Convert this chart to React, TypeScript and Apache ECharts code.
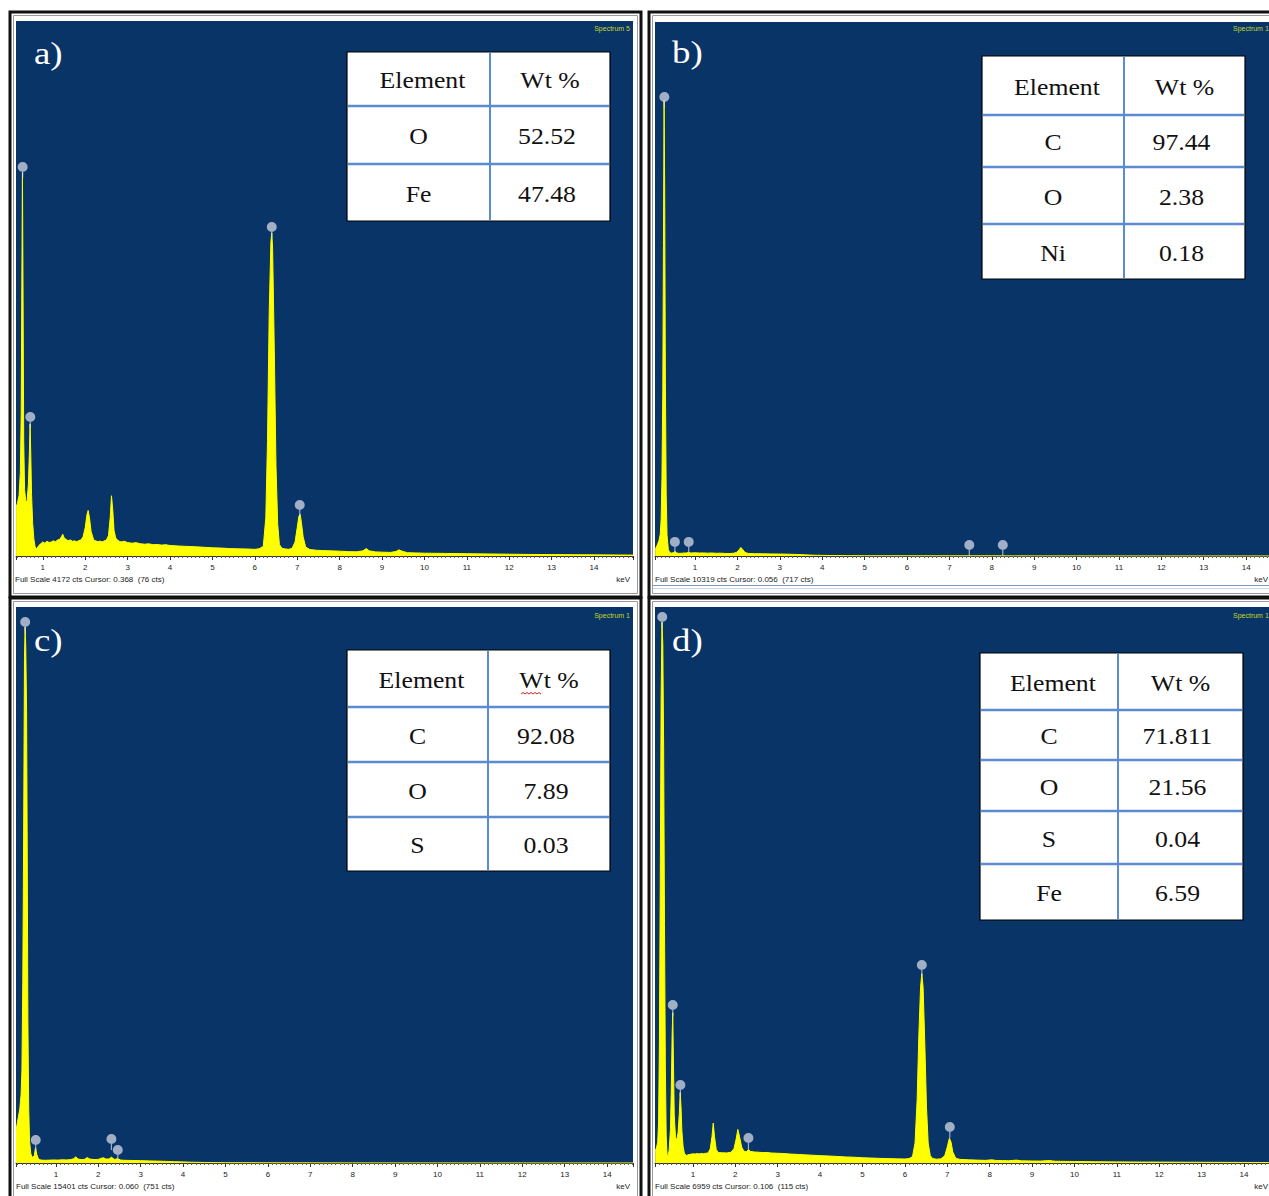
import React, { useEffect, useRef } from 'react';
import * as echarts from 'echarts';

type Pt = [number, number];

// EDS spectra: [energy keV, counts]
const spectrumA: Pt[] = [
  [0.37, 380], [0.40, 410], [0.44, 470], [0.47, 650], [0.49, 1100], [0.505, 2100], [0.52, 2990], [0.535, 2000],
  [0.55, 900], [0.57, 520], [0.60, 420], [0.63, 430], [0.66, 560], [0.685, 820], [0.70, 1030], [0.715, 820],
  [0.735, 480], [0.76, 260], [0.79, 130], [0.82, 70], [0.86, 55], [0.90, 80], [0.95, 95], [1.00, 110],
  [1.05, 100], [1.10, 115], [1.15, 105], [1.20, 110], [1.25, 118], [1.30, 112], [1.35, 125], [1.40, 130],
  [1.44, 150], [1.47, 170], [1.50, 145], [1.55, 128], [1.60, 120], [1.65, 125], [1.70, 115], [1.75, 118],
  [1.80, 112], [1.85, 120], [1.90, 125], [1.95, 150], [2.00, 220], [2.04, 320], [2.07, 355], [2.10, 300],
  [2.14, 190], [2.20, 125], [2.25, 118], [2.30, 112], [2.35, 116], [2.40, 110], [2.45, 118], [2.50, 125],
  [2.55, 160], [2.59, 300], [2.62, 470], [2.65, 360], [2.68, 200], [2.72, 140], [2.78, 118], [2.85, 110],
  [2.92, 115], [3.00, 105], [3.10, 100], [3.20, 104], [3.30, 96], [3.40, 92], [3.50, 95], [3.60, 88],
  [3.70, 90], [3.80, 85], [3.90, 88], [4.00, 82], [4.20, 78], [4.40, 75], [4.60, 72], [4.80, 68],
  [5.00, 64], [5.20, 62], [5.40, 58], [5.60, 56], [5.80, 55], [6.00, 52], [6.10, 56], [6.20, 75],
  [6.26, 300], [6.30, 900], [6.34, 1900], [6.38, 2450], [6.40, 2520], [6.42, 2400], [6.46, 1600], [6.50, 700],
  [6.54, 250], [6.58, 90], [6.64, 60], [6.72, 55], [6.80, 52], [6.88, 60], [6.95, 110], [7.00, 220],
  [7.04, 310], [7.07, 325], [7.10, 260], [7.14, 150], [7.20, 70], [7.30, 50], [7.45, 45], [7.60, 42],
  [7.80, 40], [8.00, 38], [8.20, 34], [8.40, 33], [8.55, 40], [8.63, 58], [8.70, 40], [8.85, 32],
  [9.00, 30], [9.20, 28], [9.33, 35], [9.40, 48], [9.47, 38], [9.60, 26], [9.80, 24], [10.00, 22],
  [10.50, 20], [11.00, 18], [11.50, 16], [12.00, 14], [12.50, 12], [13.00, 11], [13.50, 10], [14.00, 9],
  [14.50, 8], [14.92, 7],
];

const spectrumB: Pt[] = [
  [0.06, 120], [0.09, 180], [0.12, 230], [0.15, 300], [0.18, 420], [0.20, 700], [0.22, 1500], [0.24, 3200],
  [0.255, 6000], [0.27, 8800], [0.285, 7000], [0.30, 3500], [0.32, 1200], [0.34, 400], [0.37, 130], [0.40, 70],
  [0.45, 55], [0.50, 70], [0.53, 85], [0.57, 60], [0.62, 50], [0.70, 55], [0.80, 60], [0.85, 70],
  [0.90, 58], [1.00, 62], [1.10, 58], [1.20, 60], [1.30, 55], [1.40, 58], [1.50, 52], [1.60, 55],
  [1.70, 50], [1.80, 48], [1.90, 52], [1.98, 70], [2.04, 120], [2.08, 165], [2.12, 130], [2.18, 70],
  [2.25, 50], [2.40, 45], [2.60, 42], [2.80, 40], [3.00, 38], [3.20, 35], [3.40, 30], [3.60, 22],
  [3.80, 15], [4.00, 12], [4.30, 9], [4.60, 7], [5.00, 5], [6.00, 4], [7.00, 3], [8.00, 3],
  [9.00, 2], [10.00, 2], [12.00, 1], [14.61, 1],
];

const spectrumC: Pt[] = [
  [0.06, 900], [0.09, 1100], [0.12, 1300], [0.15, 1500], [0.18, 1900], [0.20, 2600], [0.22, 5000], [0.24, 9000],
  [0.26, 14000], [0.275, 14850], [0.29, 14300], [0.31, 12500], [0.325, 8500], [0.34, 4000], [0.36, 1500], [0.38, 600],
  [0.41, 250], [0.45, 150], [0.49, 200], [0.52, 420], [0.55, 240], [0.59, 110], [0.65, 80], [0.75, 75],
  [0.85, 80], [0.95, 85], [1.05, 80], [1.15, 90], [1.25, 85], [1.35, 95], [1.42, 120], [1.47, 170],
  [1.52, 110], [1.60, 95], [1.67, 100], [1.74, 150], [1.80, 110], [1.90, 95], [2.00, 100], [2.07, 130],
  [2.12, 145], [2.18, 110], [2.25, 110], [2.31, 160], [2.38, 100], [2.46, 120], [2.52, 85], [2.60, 75],
  [2.80, 70], [3.00, 65], [3.20, 58], [3.40, 52], [3.60, 45], [3.80, 38], [4.00, 30], [4.20, 22],
  [4.50, 15], [5.00, 8], [6.00, 5], [8.00, 3], [10.00, 2], [14.61, 1],
];

const spectrumD: Pt[] = [
  [0.11, 150], [0.14, 190], [0.17, 260], [0.19, 500], [0.21, 1500], [0.23, 3500], [0.25, 5800], [0.27, 6770],
  [0.29, 6500], [0.31, 5200], [0.33, 3000], [0.35, 1200], [0.37, 350], [0.39, 110], [0.41, 80], [0.44, 160],
  [0.47, 420], [0.49, 900], [0.51, 1600], [0.525, 1880], [0.54, 1300], [0.56, 600], [0.59, 320], [0.62, 290],
  [0.65, 380], [0.68, 620], [0.70, 880], [0.72, 700], [0.74, 400], [0.77, 200], [0.80, 120], [0.85, 95],
  [0.90, 105], [0.95, 110], [1.00, 115], [1.05, 112], [1.10, 118], [1.15, 114], [1.20, 120], [1.25, 116],
  [1.30, 122], [1.36, 125], [1.41, 180], [1.45, 330], [1.48, 500], [1.51, 330], [1.55, 170], [1.60, 130],
  [1.70, 128], [1.80, 126], [1.90, 135], [1.97, 180], [2.02, 300], [2.06, 420], [2.10, 330], [2.15, 200],
  [2.20, 150], [2.26, 140], [2.31, 170], [2.36, 145], [2.45, 138], [2.55, 135], [2.65, 130], [2.75, 132],
  [2.85, 125], [3.00, 122], [3.15, 118], [3.30, 112], [3.45, 108], [3.60, 104], [3.80, 98], [4.00, 92],
  [4.20, 88], [4.40, 82], [4.60, 76], [4.80, 72], [5.00, 66], [5.20, 62], [5.40, 58], [5.60, 55],
  [5.80, 52], [6.00, 50], [6.10, 55], [6.18, 80], [6.24, 250], [6.29, 800], [6.33, 1600], [6.37, 2200],
  [6.40, 2370], [6.43, 2200], [6.47, 1500], [6.51, 700], [6.55, 250], [6.60, 90], [6.66, 55], [6.75, 48],
  [6.85, 52], [6.94, 90], [7.00, 200], [7.05, 310], [7.09, 260], [7.13, 140], [7.20, 60], [7.30, 45],
  [7.50, 40], [7.70, 36], [7.90, 33], [8.05, 40], [8.15, 32], [8.30, 30], [8.45, 28], [8.63, 36],
  [8.75, 27], [9.00, 25], [9.20, 24], [9.40, 30], [9.55, 22], [9.80, 20], [10.00, 19], [10.50, 16],
  [11.00, 14], [11.50, 12], [12.00, 11], [12.50, 10], [13.00, 9], [13.50, 8], [14.00, 7], [14.66, 6],
];

// Peak identification markers: [energy keV, counts at marker tip]
const peaksA: Pt[] = [[0.525, 2948], [0.705, 998], [6.40, 2480], [7.06, 312]];
const peaksB: Pt[] = [[0.277, 8657], [0.525, 60], [0.851, 60], [7.47, 0], [8.26, 0]];
const peaksC: Pt[] = [[0.277, 14681], [0.525, 332], [2.31, 360], [2.46, 55]];
const peaksD: Pt[] = [[0.277, 6696], [0.525, 1840], [0.705, 839], [2.31, 175], [6.40, 2340], [7.06, 313]];

// Composition tables
const elementsA = ['O', 'Fe'];
const wtA = ['52.52', '47.48'];
const elementsB = ['C', 'O', 'Ni'];
const wtB = ['97.44', '2.38', '0.18'];
const elementsC = ['C', 'O', 'S'];
const wtC = ['92.08', '7.89', '0.03'];
const elementsD = ['C', 'O', 'S', 'Fe'];
const wtD = ['71.811', '21.56', '0.04', '6.59'];

const fullScaleCts = [4172, 10319, 15401, 6959];
const cursorKeV = ['0.368', '0.056', '0.060', '0.106'];
const cursorCts = [76, 717, 751, 115];
const spectrumNames = ['Spectrum 5', 'Spectrum 1', 'Spectrum 1', 'Spectrum 1'];
const panelTags = ['a)', 'b)', 'c)', 'd)'];
const keVTicks = [1, 2, 3, 4, 5, 6, 7, 8, 9, 10, 11, 12, 13, 14];
const keVRange: Pt[] = [[0.368, 14.92], [0.056, 14.61], [0.060, 14.61], [0.106, 14.66]];

const spectra = [spectrumA, spectrumB, spectrumC, spectrumD];
const peaks = [peaksA, peaksB, peaksC, peaksD];
const tables = [
  [elementsA, wtA],
  [elementsB, wtB],
  [elementsC, wtC],
  [elementsD, wtD],
];

// Page layout of the four panels (pixels)
const layout = [
  { frame: [10, 12, 631, 585], grid: [16, 21, 617, 535], tag: [34, 53], name: [630, 28, 'right'], table: { x: 347, w: 263, col: 490, rows: [52, 106, 164, 221] }, foot: [15, 579], unit: [630, 579] },
  { frame: [649, 12, 640, 585], grid: [655, 22, 617, 534], tag: [672, 52], name: [1233, 28, 'left'], table: { x: 982, w: 263, col: 1124, rows: [56, 115, 167, 224, 279] }, foot: [655, 579], unit: [1268, 579] },
  { frame: [10, 598, 631, 620], grid: [16, 607, 617, 556], tag: [34, 640], name: [630, 615, 'right'], table: { x: 347, w: 263, col: 488, rows: [650, 707, 762, 817, 871] }, foot: [16, 1186], unit: [630, 1186] },
  { frame: [649, 598, 640, 620], grid: [655, 607, 617, 556], tag: [672, 640], name: [1233, 615, 'left'], table: { x: 980, w: 263, col: 1118, rows: [653, 710, 760, 811, 864, 920] }, foot: [655, 1186], unit: [1268, 1186] },
];

const NAVY = '#083467';
const YELLOW = '#ffff00';
const TABLE_BLUE = '#5b8bd2';
const SERIF = '"Liberation Serif", "Times New Roman", serif';
const NARROW = '"Liberation Sans Narrow", "Liberation Sans", Arial, sans-serif';
const PIN = 'path://M0,5A5,5 0 1,1 10,5A5,5 0 1,1 0,5Z M4.4,9.6L5.6,9.6L5.6,16L4.4,16Z';

function txt(x: number, y: number, text: string, opts: any = {}) {
  const { size = 23, family = SERIF, color = '#111', align = 'center', scaleX = 1.12, z = 100 } = opts;
  return {
    type: 'text',
    x,
    y,
    z,
    scaleX,
    silent: true,
    style: {
      text,
      x: 0,
      y: 0,
      fill: color,
      fontSize: size,
      fontFamily: family,
      align,
      verticalAlign: 'middle',
      textAlign: align,
      textVerticalAlign: 'middle',
    },
  };
}

function buildGraphics() {
  const els: any[] = [];
  layout.forEach((l, i) => {
    const [fx, fy, fw, fh] = l.frame;
    els.push({ type: 'rect', z: 100, silent: true, shape: { x: fx, y: fy, width: fw, height: fh }, style: { fill: 'none', stroke: '#111', lineWidth: 3 } });
    els.push({ type: 'rect', z: 100, silent: true, shape: { x: fx + 3.5, y: fy + 3.5, width: fw - 7, height: fh - 7 }, style: { fill: 'none', stroke: '#9a9a9a', lineWidth: 1 } });

    els.push(txt(l.tag[0], l.tag[1], panelTags[i], { size: 32, color: '#fff', align: 'left', scaleX: 1.15 }));
    els.push(txt(l.name[0] as number, l.name[1] as number, spectrumNames[i], { size: 7, family: NARROW, color: '#c4d62a', align: l.name[2], scaleX: 1 }));

    const footText = `Full Scale ${fullScaleCts[i]} cts Cursor: ${cursorKeV[i]}  (${cursorCts[i]} cts)`;
    els.push(txt(l.foot[0], l.foot[1], footText, { size: 8, family: NARROW, color: '#222', align: 'left', scaleX: 1 }));
    els.push(txt(l.unit[0], l.unit[1], 'keV', { size: 8, family: NARROW, color: '#222', align: 'right', scaleX: 1 }));

    const t = l.table;
    const top = t.rows[0];
    const bottom = t.rows[t.rows.length - 1];
    els.push({ type: 'rect', z: 100, silent: true, shape: { x: t.x, y: top, width: t.w, height: bottom - top }, style: { fill: '#fff', stroke: '#000', lineWidth: 1.2 } });
    els.push({ type: 'line', z: 101, silent: true, shape: { x1: t.col, y1: top + 1, x2: t.col, y2: bottom - 1 }, style: { stroke: TABLE_BLUE, lineWidth: 2 } });
    t.rows.slice(1, -1).forEach((ry) => {
      els.push({ type: 'line', z: 101, silent: true, shape: { x1: t.x + 1, y1: ry, x2: t.x + t.w - 1, y2: ry }, style: { stroke: TABLE_BLUE, lineWidth: 2.5 } });
    });
    const c1 = (t.x + t.col) / 2 + 4;
    const c2 = (t.col + t.x + t.w) / 2;
    const rowMid = (k: number) => (t.rows[k] + t.rows[k + 1]) / 2 + 1;
    els.push(txt(c1, rowMid(0), 'Element'));
    els.push(txt(c2, rowMid(0), 'Wt %'));
    const [els1, wts] = tables[i];
    els1.forEach((e, k) => {
      els.push(txt(c1 - 4, rowMid(k + 1), e));
      els.push(txt(c2 - 3, rowMid(k + 1), wts[k]));
    });
  });

  // spell-check squiggle under "Wt" in table c
  els.push({ type: 'polyline', z: 102, silent: true, shape: { points: [[521, 694], [523, 692.5], [525, 694], [527, 692.5], [529, 694], [531, 692.5], [533, 694], [535, 692.5], [537, 694], [539, 692.5], [541, 694]] }, style: { stroke: '#d42020', lineWidth: 1, fill: 'none' } });

  // status-bar rule under the footer of panel b
  els.push({ type: 'line', z: 100, silent: true, shape: { x1: 653, y1: 585.5, x2: 1269, y2: 585.5 }, style: { stroke: '#7f97bd', lineWidth: 1 } });
  els.push({ type: 'line', z: 100, silent: true, shape: { x1: 653, y1: 588.5, x2: 1269, y2: 588.5 }, style: { stroke: '#c9d4e6', lineWidth: 1 } });
  return els;
}

export default function App() {
  const ref = useRef<HTMLDivElement>(null);

  useEffect(() => {
    if (!ref.current) return;
    const chart = echarts.init(ref.current, undefined, { renderer: 'svg' });

    const option: any = {
      animation: false,
      backgroundColor: '#ffffff',
      grid: layout.map((l) => ({
        left: l.grid[0],
        top: l.grid[1],
        width: l.grid[2],
        height: l.grid[3],
        show: true,
        backgroundColor: NAVY,
        borderWidth: 0,
        containLabel: false,
        outerBoundsMode: 'none',
      })),
      xAxis: layout.map((_, i) => ({
        gridIndex: i,
        type: 'value',
        min: keVRange[i][0],
        max: keVRange[i][1],
        minInterval: 1,
        maxInterval: 1,
        splitNumber: 14,
        axisLine: { show: true, onZero: false, lineStyle: { color: '#333', width: 1 } },
        axisTick: { show: true, inside: false, length: 4, lineStyle: { color: '#333', width: 1 } },
        minorTick: { show: true, splitNumber: 10, length: 2, lineStyle: { color: '#555', width: 1 } },
        splitLine: { show: false },
        minorSplitLine: { show: false },
        axisLabel: {
          show: true,
          fontSize: 8,
          color: '#222',
          margin: 7,
          fontFamily: NARROW,
          showMinLabel: false,
          showMaxLabel: false,
          formatter: (v: number) => {
            const r = Math.round(v);
            return Math.abs(v - r) < 1e-6 && keVTicks.includes(r) ? String(r) : '';
          },
        },
      })),
      yAxis: layout.map((_, i) => ({
        gridIndex: i,
        type: 'value',
        min: 0,
        max: fullScaleCts[i],
        show: false,
      })),
      series: [
        ...spectra.map((d, i) => ({
          type: 'line',
          xAxisIndex: i,
          yAxisIndex: i,
          data: d,
          showSymbol: false,
          symbol: 'none',
          silent: true,
          clip: true,
          z: 2,
          lineStyle: { color: YELLOW, width: 1 },
          areaStyle: { color: YELLOW, opacity: 1 },
        })),
        ...peaks.map((d, i) => ({
          type: 'scatter',
          xAxisIndex: i,
          yAxisIndex: i,
          data: d,
          symbol: PIN,
          symbolSize: [10, 16],
          symbolOffset: [0, '-50%'],
          silent: true,
          z: 3,
          itemStyle: { color: 'rgba(214,220,232,0.92)' },
        })),
      ],
      graphic: { elements: buildGraphics() },
    };

    chart.setOption(option);
    return () => chart.dispose();
  }, []);

  return (
    <div
      ref={ref}
      style={{ position: 'absolute', left: 0, top: 0, width: 1269, height: 1196, background: '#fff' }}
    />
  );
}
